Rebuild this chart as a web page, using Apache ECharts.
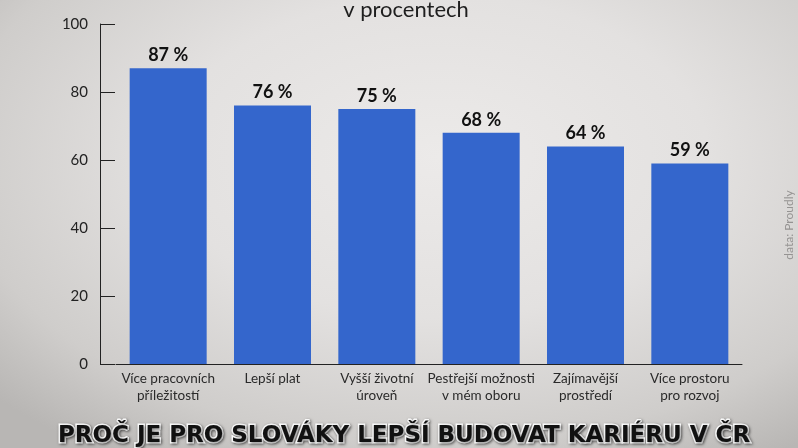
<!DOCTYPE html>
<html><head><meta charset="utf-8">
<script src="https://cdn.jsdelivr.net/npm/echarts@6/dist/echarts.min.js"></script>
<style>
html,body{margin:0;padding:0;}
#c{width:798px;height:448px;background:radial-gradient(ellipse 75% 80% at 55% 35%, #eceae9 0%, #e3e1e0 45%, #cfcdcb 80%, #b8b6b4 100%);}
</style></head>
<body><div id="c"></div>
<script>
const categories = ['Více pracovních\npříležitostí','Lepší plat','Vyšší životní\núroveň','Pestřejší možnosti\nv mém oboru','Zajímavější\nprostředí','Více prostoru\npro rozvoj'];
const values = [87, 76, 75, 68, 64, 59];
const yTicks = [0, 20, 40, 60, 80, 100];

const chart = echarts.init(document.getElementById('c'), null, {renderer:'canvas'});
chart.setOption({
  backgroundColor: 'transparent',
  animation: false,
  title: [
    {text: 'v procentech', left: 401, textAlign: 'center', top: -6,
     textStyle: {fontFamily: 'Lato', fontSize: 22, fontWeight: 'normal', color: '#1e1e1e'}},
    {text: 'PROČ JE PRO SLOVÁKY LEPŠÍ BUDOVAT KARIÉRU V ČR', left: 399, textAlign: 'center', top: 420,
     textStyle: {fontFamily: 'DejaVu Sans', fontSize: 23, fontWeight: 'bold', color: '#111',
       textBorderColor: '#ffffff', textBorderWidth: 3,
       textShadowColor: 'rgba(0,0,0,0.5)', textShadowBlur: 3, textShadowOffsetX: 1, textShadowOffsetY: 1}}
  ],
  graphic: [{
    type: 'text', x: 789, y: 225, rotation: Math.PI/2,
    style: {text: 'data: Proudly', fill: '#959392', font: '12px Lato', align: 'center', verticalAlign: 'middle'}
  }],
  grid: {left: 116, right: 56, top: 24, bottom: 84},
  xAxis: {
    type: 'category', data: categories,
    axisLine: {lineStyle: {color: '#222', width: 1}},
    axisTick: {show: false},
    axisLabel: {fontFamily: 'Lato', fontSize: 13.5, color: '#2a2a2a', lineHeight: 17, margin: 6, interval: 0}
  },
  yAxis: {
    type: 'value', min: 0, max: 100, interval: 20, offset: 16,
    axisLine: {show: true, lineStyle: {color: '#222', width: 1}},
    axisTick: {show: true, inside: true, length: 15, lineStyle: {color: '#222'}},
    axisLabel: {fontFamily: 'Lato', fontSize: 15, color: '#222', margin: 12,
      formatter: v => yTicks.includes(v) ? String(v) : ''},
    splitLine: {show: false}
  },
  series: [{
    type: 'bar', data: values, barWidth: 77,
    itemStyle: {color: '#3466cc'},
    label: {show: true, position: 'top', distance: 4, formatter: '{c} %',
      fontFamily: 'Lato', fontSize: 18, fontWeight: 'bold', color: '#111'}
  }]
});
</script></body></html>
